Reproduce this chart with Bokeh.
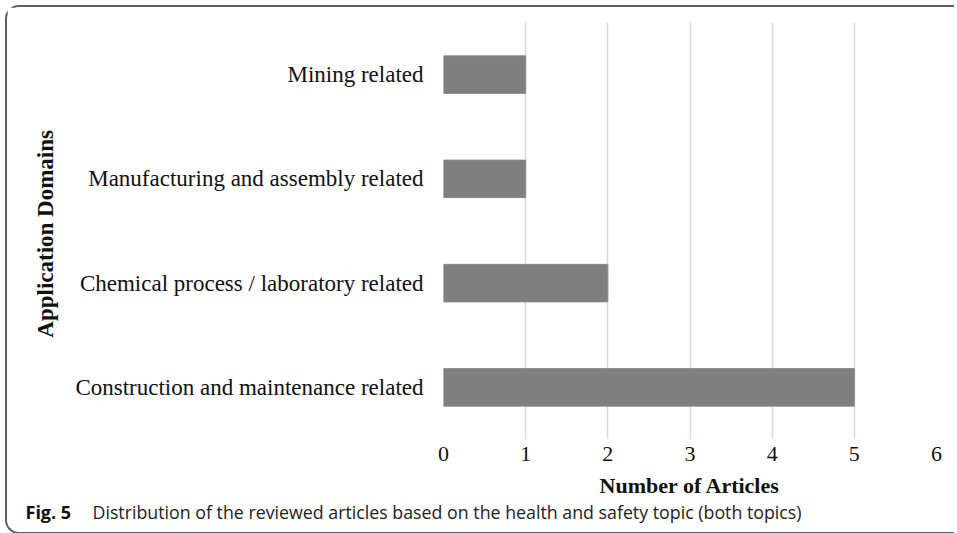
from bokeh.plotting import figure
from bokeh.models import Range1d, FactorRange, Label, ColumnDataSource
from bokeh.layouts import column
from bokeh.embed import file_html
from bokeh.resources import INLINE

categories = ["Construction and maintenance related",
              "Chemical process / laboratory related",
              "Manufacturing and assembly related",
              "Mining related"]
articles = [5, 2, 1, 1]
x_ticks = [0, 1, 2, 3, 4, 5, 6]
caption_fig = "Fig. 5"
caption_text = "Distribution of the reviewed articles based on the health and safety topic (both topics)"

src = ColumnDataSource(dict(cat=categories, val=articles))

p = figure(width=947, height=497, output_backend="svg", toolbar_location=None,
           y_range=FactorRange(*categories, range_padding=0),
           x_range=Range1d(0, 6),
           min_border_left=436, min_border_right=18,
           min_border_top=15, min_border_bottom=65)
p.frame_align = False

p.hbar(y="cat", right="val", left=0, height=0.36, source=src,
       fill_color="#7f7f7f", line_color="#8a8a8a", line_width=1)

p.outline_line_color = None
p.ygrid.grid_line_color = None
p.xgrid.grid_line_color = "#d9d9d9"
p.xgrid.grid_line_width = 1.5
p.xaxis.ticker = x_ticks

serif = "Liberation Serif"
for ax in (p.xaxis, p.yaxis):
    ax.axis_line_color = None
    ax.major_tick_line_color = None
    ax.minor_tick_line_color = None
    ax.major_tick_out = 0
    ax.major_tick_in = 0
    ax.major_label_text_font = serif
    ax.major_label_text_color = "#111111"
    ax.axis_label_text_font = serif
    ax.axis_label_text_font_style = "bold"
    ax.axis_label_text_color = "#111111"

p.xaxis.axis_label_text_font_size = "22px"
p.yaxis.axis_label_text_font_size = "23px"
p.xaxis.major_label_text_font_size = "22px"
p.yaxis.major_label_text_font_size = "23px"
p.xaxis.major_label_standoff = 7
p.yaxis.major_label_standoff = 20
p.xaxis.axis_label = "Number of Articles"
p.yaxis.axis_label = "Application  Domains"
p.xaxis.axis_label_standoff = 9
p.yaxis.axis_label_standoff = 14

# caption strip (second small figure, text only), pulled up over the plot's bottom margin
cap = figure(width=947, height=40, output_backend="svg", toolbar_location=None,
             x_range=Range1d(0, 1), y_range=Range1d(0, 1),
             min_border=0, min_border_left=0, min_border_right=0,
             min_border_top=0, min_border_bottom=0)
cap.frame_align = False
cap.margin = (-12, 0, 0, 0)
cap.axis.visible = False
cap.grid.visible = False
cap.outline_line_color = None
cap.background_fill_color = None
cap.border_fill_color = None
cap.add_layout(Label(x=18, y=20.5, x_units="screen", y_units="screen",
                     text=caption_fig, text_font="Open Sans", text_font_style="bold",
                     text_font_size="18px", text_baseline="middle", text_color="#111111"))
cap.add_layout(Label(x=85, y=20.5, x_units="screen", y_units="screen",
                     text=caption_text, text_font="Open Sans", text_font_size="17.8px",
                     text_baseline="middle", text_color="#222222"))

layout = column(p, cap, spacing=0)
layout.margin = (5, 0, 0, 5)
layout.styles = {"border-top": "2px solid #5f5f5f", "border-left": "2px solid #5f5f5f",
                 "border-bottom": "2px solid #5f5f5f",
                 "border-top-left-radius": "14px", "border-bottom-left-radius": "14px"}

open("out.html", "w").write(file_html(layout, INLINE))
